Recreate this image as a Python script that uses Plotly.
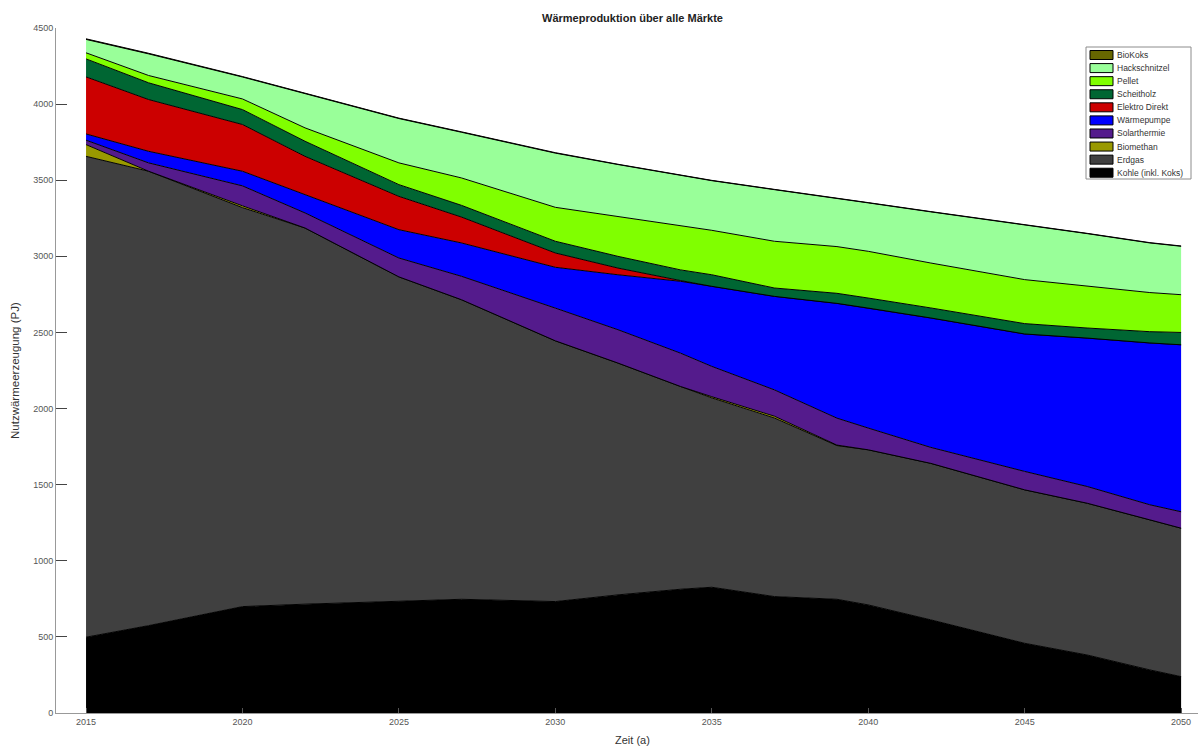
import plotly.graph_objects as go

years = [2015, 2017, 2020, 2022, 2025, 2027, 2030, 2032, 2034, 2035,
         2037, 2039, 2040, 2042, 2045, 2047, 2049, 2050]

kohle = [498, 574, 699, 715, 734, 747, 732, 776, 813, 826, 765, 747, 710, 612, 458, 381, 283, 239]
erdgas = [3159, 2985, 2621, 2471, 2131, 1968, 1713, 1523, 1332, 1244, 1173, 1010, 1019, 1028, 1008, 997, 986, 975]
biomethan = [77, 0, 12, 0, 0, 0, 0, 0, 0, 8, 12, 3, 0, 0, 0, 0, 0, 0]
solarthermie = [29, 55, 131, 99, 124, 154, 215, 219, 219, 199, 173, 177, 143, 105, 121, 110, 99, 108]
waermepumpe = [41, 76, 96, 120, 186, 219, 268, 361, 472, 526, 614, 754, 788, 850, 903, 975, 1063, 1097]
elektro_direkt = [375, 340, 307, 252, 219, 170, 94, 44, 5, 0, 0, 0, 0, 0, 0, 0, 0, 0]
scheitholz = [118, 110, 98, 99, 77, 77, 77, 77, 70, 76, 55, 66, 66, 66, 68, 66, 74, 81]
pellet = [40, 48, 70, 88, 143, 180, 223, 263, 289, 292, 307, 307, 307, 295, 289, 274, 257, 248]
hackschnitzel = [88, 142, 144, 226, 291, 300, 356, 340, 333, 326, 339, 313, 318, 336, 361, 346, 326, 318]
biokoks = [4, 4, 3, 3, 3, 3, 3, 2, 2, 2, 2, 2, 2, 2, 2, 2, 2, 2]

series_names = ["Kohle (inkl. Koks)", "Erdgas", "Biomethan", "Solarthermie", "Wärmepumpe",
                "Elektro Direkt", "Scheitholz", "Pellet", "Hackschnitzel", "BioKoks"]
series_values = [kohle, erdgas, biomethan, solarthermie, waermepumpe,
                 elektro_direkt, scheitholz, pellet, hackschnitzel, biokoks]
series_colors = ["#000000", "#404040", "#999900", "#541b8c", "#0000ff",
                 "#cc0000", "#006633", "#80ff00", "#99ff99", "#666600"]

y_ticks = [0, 500, 1000, 1500, 2000, 2500, 3000, 3500, 4000, 4500]
x_ticks = [2015, 2020, 2025, 2030, 2035, 2040, 2045, 2050]

FONT = "Liberation Sans, Arial, sans-serif"

fig = go.Figure()
for name, vals, col in zip(series_names, series_values, series_colors):
    fig.add_trace(go.Scatter(
        x=years, y=vals, name=name, mode="lines",
        stackgroup="one", fillcolor=col,
        line=dict(color="#000000", width=1),
        showlegend=False,
    ))

# plot-area geometry in pixels
L, R, T, B = 56, 1198, 28, 713
W, H = R - L, B - T

def px(x):
    return (x - L) / W

def py(y):
    return (B - y) / H

shapes = []
annotations = []

# legend (custom, compact like the reference)
shapes.append(dict(type="rect", xref="paper", yref="paper",
                   x0=px(1086), x1=px(1191), y0=py(179), y1=py(47),
                   line=dict(color="#8c8c8c", width=1), fillcolor="white", layer="above"))
order = list(range(len(series_names)))[::-1]
for i, k in enumerate(order):
    cy = 55 + i * 13.08
    shapes.append(dict(type="rect", xref="paper", yref="paper",
                       x0=px(1090), x1=px(1113), y0=py(cy + 4.5), y1=py(cy - 4.5),
                       line=dict(color="#000000", width=1), fillcolor=series_colors[k],
                       layer="above"))
    annotations.append(dict(xref="paper", yref="paper", x=px(1115), y=py(cy),
                            text=series_names[k], showarrow=False, xanchor="left",
                            yanchor="middle", font=dict(family=FONT, size=8.5, color="#333333")))

# titles
annotations.append(dict(xref="paper", yref="paper", x=px(632), y=py(18),
                        text="<b>Wärmeproduktion über alle Märkte</b>", showarrow=False,
                        xanchor="center", yanchor="middle",
                        font=dict(family=FONT, size=11, color="#222222")))
annotations.append(dict(xref="paper", yref="paper", x=px(632), y=py(740),
                        text="Zeit (a)", showarrow=False, xanchor="center", yanchor="middle",
                        font=dict(family=FONT, size=11, color="#333333")))
annotations.append(dict(xref="paper", yref="paper", x=px(15), y=py(371),
                        text="Nutzwärmeerzeugung (PJ)", showarrow=False, textangle=-90,
                        xanchor="center", yanchor="middle",
                        font=dict(family=FONT, size=11.5, color="#333333")))

fig.update_layout(
    width=1198, height=747,
    margin=dict(l=L, r=1198 - R, t=T, b=747 - B, autoexpand=False),
    paper_bgcolor="white", plot_bgcolor="white",
    font=dict(family=FONT, size=9, color="#444444"),
    shapes=shapes, annotations=annotations,
    hovermode=False,
)
fig.update_xaxes(
    range=[2014.04, 2050.54], tickvals=x_ticks, ticktext=[str(t) for t in x_ticks],
    ticks="inside", ticklen=5, tickcolor="#555555",
    showline=True, linecolor="#999999", linewidth=1,
    showgrid=False, zeroline=False,
    tickfont=dict(family=FONT, size=9, color="#555555"),
)
fig.update_yaxes(
    range=[0, 4500], tickvals=y_ticks, ticktext=[str(t) for t in y_ticks],
    ticks="inside", ticklen=11, tickcolor="#444444",
    showline=True, linecolor="#999999", linewidth=1,
    showgrid=False, zeroline=False,
    tickfont=dict(family=FONT, size=9, color="#555555"),
)

fig.write_html(
    "out.html",
    config={"displayModeBar": False},
    post_script="document.body.style.margin='0px';document.body.style.overflow='hidden';",
)
